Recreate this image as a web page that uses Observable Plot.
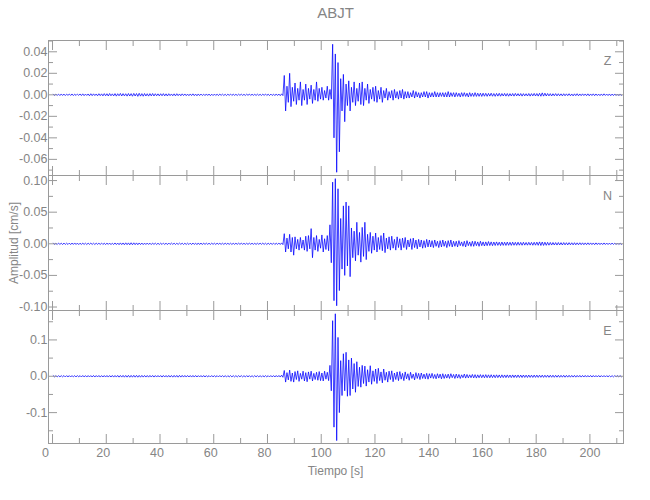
<!DOCTYPE html>
<html><head><meta charset="utf-8">
<script src="https://cdn.jsdelivr.net/npm/d3@7"></script>
<script src="https://cdn.jsdelivr.net/npm/@observablehq/plot@0.6"></script>
<style>
body{margin:0;background:#fff;}
#wrap{position:relative;width:650px;height:500px;font-family:"Liberation Sans",Arial,sans-serif;color:#858585;overflow:hidden;}
#wrap svg{position:absolute;left:0;top:0;}
.lbl{position:absolute;white-space:pre;transform:translate(-50%,-50%);font-size:12px;}
</style></head><body>
<div id="wrap">
  <div class="lbl" id="title" style="left:335.5px;top:12px;font-size:15px;">ABJT</div>
  <div class="lbl" id="xlab" style="left:335.5px;top:471px;">Tiempo [s]</div>
  <div class="lbl" id="ylab" style="left:14px;top:243px;transform:translate(-50%,-50%) rotate(-90deg);">Amplitud [cm/s]</div>
</div>
<script>
// ---- data: per 1-s bin (bin i covers [i, i+1) s), upper and lower peak of trace ----
const binStart = 0, binWidth = 1;
const channels = ["Z", "N", "E"];

const zHi = [
.0006,.0007,.0006,.0008,.0007,.0006,.0007,.0008,.0006,.0007,
.0008,.0009,.0007,.0008,.0010,.0009,.0008,.0010,.0009,.0011,
.0010,.0012,.0009,.0011,.0010,.0013,.0011,.0010,.0012,.0011,
.0013,.0012,.0014,.0011,.0012,.0010,.0011,.0012,.0010,.0009,
.0010,.0011,.0009,.0010,.0008,.0009,.0010,.0008,.0009,.0008,
.0007,.0008,.0009,.0007,.0008,.0007,.0006,.0008,.0007,.0006,
.0007,.0006,.0007,.0006,.0005,.0006,.0007,.0006,.0005,.0006,
.0006,.0005,.0006,.0007,.0006,.0005,.0006,.0005,.0006,.0007,
.0006,.0007,.0006,.0008,.0007,.0009,.018,.008,.020,.007,
.011,.006,.012,.005,.010,.006,.009,.005,.012,.006,
.007,.004,.008,.005,.047,.038,.030,.015,.019,.010,
.013,.007,.012,.006,.011,.012,.006,.010,.005,.007,
.008,.004,.007,.004,.006,.003,.004,.005,.003,.004,
.005,.003,.003,.002,.004,.003,.002,.002,.003,.003,
.002,.002,.003,.002,.002,.002,.002,.003,.002,.002,
.002,.0015,.002,.002,.0015,.002,.0015,.002,.0015,.0015,
.0015,.0014,.0013,.0015,.0012,.0013,.0014,.0012,.0013,.0012,
.0011,.0012,.0013,.0011,.0012,.0011,.0010,.0012,.0011,.0013,
.0012,.0014,.0018,.0015,.0012,.0011,.0010,.0011,.0010,.0009,
.0010,.0009,.0010,.0008,.0009,.0010,.0008,.0009,.0008,.0009,
.0008,.0009,.0008,.0007,.0008,.0009,.0007,.0008,.0007,.0008,
.0007,.0008];
const zLo = [
-.0006,-.0005,-.0007,-.0006,-.0007,-.0005,-.0006,-.0007,-.0006,-.0005,
-.0007,-.0008,-.0006,-.0009,-.0008,-.0007,-.0009,-.0008,-.0010,-.0009,
-.0011,-.0009,-.0010,-.0012,-.0009,-.0011,-.0010,-.0012,-.0011,-.0013,
-.0011,-.0014,-.0012,-.0013,-.0011,-.0012,-.0010,-.0011,-.0009,-.0010,
-.0009,-.0010,-.0011,-.0008,-.0009,-.0010,-.0008,-.0009,-.0007,-.0008,
-.0008,-.0007,-.0008,-.0009,-.0007,-.0006,-.0007,-.0006,-.0008,-.0007,
-.0006,-.0007,-.0005,-.0006,-.0007,-.0005,-.0006,-.0005,-.0006,-.0005,
-.0005,-.0006,-.0005,-.0006,-.0005,-.0006,-.0005,-.0006,-.0005,-.0006,
-.0007,-.0006,-.0007,-.0006,-.0008,-.0007,-.015,-.007,-.011,-.006,
-.009,-.005,-.010,-.005,-.009,-.004,-.008,-.005,-.006,-.004,
-.005,-.003,-.005,-.004,-.040,-.072,-.053,-.015,-.025,-.010,
-.015,-.007,-.010,-.006,-.009,-.010,-.005,-.008,-.004,-.006,
-.007,-.004,-.007,-.003,-.005,-.003,-.005,-.003,-.004,-.003,
-.004,-.003,-.003,-.002,-.003,-.002,-.003,-.002,-.002,-.003,
-.002,-.002,-.002,-.002,-.0015,-.002,-.002,-.002,-.0015,-.002,
-.0015,-.002,-.0015,-.0015,-.002,-.0015,-.0015,-.0015,-.0014,-.0015,
-.0013,-.0014,-.0012,-.0013,-.0014,-.0012,-.0013,-.0011,-.0012,-.0013,
-.0011,-.0012,-.0010,-.0011,-.0012,-.0010,-.0011,-.0012,-.0010,-.0011,
-.0012,-.0013,-.0012,-.0011,-.0010,-.0011,-.0009,-.0010,-.0009,-.0010,
-.0009,-.0008,-.0009,-.0010,-.0008,-.0009,-.0008,-.0007,-.0008,-.0009,
-.0007,-.0008,-.0007,-.0008,-.0007,-.0006,-.0007,-.0008,-.0007,-.0006,
-.0007,-.0006];

const nHi = [
.0010,.0009,.0011,.0010,.0012,.0010,.0011,.0012,.0013,.0011,
.0010,.0011,.0009,.0010,.0011,.0009,.0010,.0009,.0011,.0010,
.0011,.0012,.0010,.0013,.0012,.0014,.0013,.0015,.0014,.0016,
.0015,.0014,.0013,.0012,.0011,.0012,.0010,.0011,.0010,.0009,
.0010,.0011,.0010,.0012,.0011,.0010,.0009,.0011,.0010,.0009,
.0010,.0011,.0012,.0010,.0013,.0012,.0011,.0010,.0009,.0010,
.0009,.0010,.0008,.0009,.0010,.0008,.0009,.0008,.0009,.0010,
.0009,.0008,.0009,.0010,.0009,.0008,.0009,.0010,.0011,.0009,
.0010,.0009,.0011,.0010,.0012,.0014,.016,.009,.015,.010,
.011,.007,.010,.006,.012,.013,.024,.010,.013,.007,
.014,.008,.013,.030,.0975,.103,.087,.040,.060,.066,
.060,.025,.020,.034,.018,.026,.034,.015,.018,.012,
.017,.010,.013,.017,.009,.011,.012,.007,.011,.008,
.009,.010,.006,.008,.009,.006,.007,.006,.005,.007,
.006,.005,.006,.004,.005,.006,.004,.005,.006,.004,
.004,.005,.003,.004,.005,.003,.004,.004,.003,.004,
.003,.003,.0035,.003,.0028,.003,.0025,.0028,.0025,.0027,
.0024,.0026,.0023,.0025,.0022,.0024,.0021,.0023,.0022,.0024,
.0026,.0030,.0028,.0025,.0023,.0021,.0020,.0019,.0020,.0018,
.0019,.0017,.0018,.0016,.0017,.0015,.0016,.0015,.0014,.0015,
.0014,.0013,.0014,.0013,.0012,.0013,.0012,.0011,.0012,.0011,
.0012,.0011];
const nLo = [
-.0009,-.0011,-.0010,-.0012,-.0010,-.0011,-.0012,-.0010,-.0011,-.0012,
-.0011,-.0010,-.0011,-.0009,-.0010,-.0011,-.0009,-.0010,-.0011,-.0012,
-.0010,-.0013,-.0011,-.0012,-.0014,-.0013,-.0015,-.0014,-.0016,-.0015,
-.0014,-.0015,-.0012,-.0013,-.0011,-.0010,-.0012,-.0010,-.0011,-.0010,
-.0011,-.0010,-.0012,-.0010,-.0009,-.0011,-.0010,-.0009,-.0011,-.0010,
-.0011,-.0012,-.0010,-.0013,-.0011,-.0012,-.0010,-.0009,-.0010,-.0009,
-.0010,-.0008,-.0009,-.0010,-.0008,-.0009,-.0010,-.0009,-.0008,-.0009,
-.0008,-.0009,-.0010,-.0008,-.0009,-.0010,-.0008,-.0009,-.0010,-.0011,
-.0009,-.0010,-.0011,-.0009,-.0011,-.0013,-.013,-.008,-.013,-.018,
-.008,-.010,-.007,-.010,-.012,-.008,-.022,-.010,-.012,-.007,
-.013,-.009,-.011,-.030,-.090,-.098,-.074,-.040,-.050,-.035,
-.052,-.022,-.027,-.018,-.029,-.020,-.025,-.012,-.015,-.010,
-.013,-.009,-.011,-.014,-.008,-.010,-.007,-.010,-.006,-.010,
-.006,-.009,-.005,-.009,-.006,-.008,-.005,-.007,-.006,-.005,
-.005,-.006,-.004,-.006,-.005,-.004,-.006,-.004,-.005,-.004,
-.005,-.003,-.004,-.005,-.003,-.004,-.004,-.003,-.004,-.003,
-.0035,-.003,-.0028,-.003,-.0027,-.0025,-.0028,-.0025,-.0026,-.0024,
-.0025,-.0023,-.0024,-.0022,-.0023,-.0021,-.0022,-.0021,-.0023,-.0022,
-.0024,-.0027,-.0026,-.0024,-.0022,-.0020,-.0019,-.0020,-.0018,-.0019,
-.0017,-.0018,-.0016,-.0017,-.0016,-.0015,-.0014,-.0015,-.0014,-.0013,
-.0013,-.0014,-.0012,-.0013,-.0012,-.0011,-.0012,-.0011,-.0010,-.0011,
-.0010,-.0011];

const eHi = [
.0018,.0016,.0019,.0017,.0020,.0018,.0017,.0019,.0018,.0020,
.0019,.0021,.0018,.0020,.0019,.0022,.0020,.0021,.0019,.0020,
.0021,.0020,.0022,.0021,.0023,.0022,.0024,.0023,.0025,.0024,
.0026,.0025,.0023,.0024,.0022,.0021,.0023,.0022,.0020,.0021,
.0020,.0022,.0021,.0023,.0022,.0024,.0023,.0025,.0024,.0022,
.0021,.0020,.0022,.0021,.0019,.0020,.0021,.0019,.0018,.0020,
.0019,.0018,.0020,.0019,.0017,.0018,.0019,.0017,.0018,.0017,
.0018,.0017,.0019,.0018,.0017,.0018,.0019,.0017,.0018,.0019,
.0018,.0020,.0019,.0021,.0022,.0030,.016,.010,.017,.009,
.013,.015,.008,.014,.010,.012,.014,.008,.011,.013,
.009,.014,.011,.030,.153,.172,.107,.043,.062,.066,
.045,.050,.035,.040,.025,.030,.028,.018,.029,.015,
.020,.022,.012,.020,.011,.014,.015,.009,.012,.013,
.008,.012,.007,.011,.006,.010,.008,.009,.006,.008,
.007,.008,.005,.007,.006,.007,.005,.006,.007,.005,
.006,.005,.004,.006,.005,.004,.005,.0045,.004,.0045,
.004,.0045,.004,.0042,.0038,.004,.0037,.0039,.0036,.0038,
.0035,.0037,.0034,.0036,.0033,.0035,.0032,.0034,.0031,.0033,
.0032,.0030,.0031,.0029,.0030,.0028,.0029,.0027,.0028,.0026,
.0027,.0025,.0026,.0024,.0025,.0023,.0024,.0022,.0023,.0021,
.0022,.0021,.0020,.0021,.0019,.0020,.0018,.0019,.0018,.0017,
.0018,.0017];
const eLo = [
-.0017,-.0019,-.0018,-.0016,-.0019,-.0017,-.0020,-.0018,-.0019,-.0017,
-.0020,-.0018,-.0021,-.0019,-.0020,-.0021,-.0019,-.0022,-.0020,-.0021,
-.0022,-.0021,-.0023,-.0022,-.0024,-.0023,-.0025,-.0024,-.0026,-.0025,
-.0024,-.0026,-.0025,-.0023,-.0022,-.0024,-.0021,-.0022,-.0021,-.0020,
-.0022,-.0021,-.0023,-.0022,-.0024,-.0023,-.0025,-.0023,-.0022,-.0021,
-.0020,-.0022,-.0021,-.0020,-.0019,-.0021,-.0020,-.0018,-.0019,-.0018,
-.0018,-.0019,-.0017,-.0018,-.0019,-.0017,-.0018,-.0017,-.0018,-.0016,
-.0017,-.0018,-.0017,-.0019,-.0018,-.0017,-.0018,-.0019,-.0018,-.0017,
-.0019,-.0018,-.0020,-.0019,-.0021,-.0028,-.016,-.010,-.014,-.016,
-.009,-.014,-.008,-.013,-.015,-.008,-.013,-.009,-.011,-.012,
-.013,-.008,-.012,-.040,-.140,-.177,-.100,-.053,-.040,-.055,
-.053,-.035,-.044,-.028,-.030,-.020,-.027,-.016,-.022,-.014,
-.020,-.012,-.018,-.011,-.016,-.009,-.015,-.009,-.012,-.008,
-.012,-.007,-.011,-.006,-.010,-.006,-.009,-.006,-.007,-.008,
-.005,-.006,-.007,-.005,-.007,-.006,-.005,-.006,-.004,-.006,
-.005,-.006,-.004,-.005,-.0045,-.004,-.0045,-.005,-.004,-.004,
-.0042,-.004,-.0041,-.0038,-.004,-.0037,-.0039,-.0036,-.0037,-.0035,
-.0036,-.0034,-.0035,-.0033,-.0034,-.0032,-.0033,-.0031,-.0032,-.0030,
-.0031,-.0029,-.0030,-.0028,-.0029,-.0027,-.0028,-.0026,-.0027,-.0025,
-.0026,-.0024,-.0025,-.0023,-.0024,-.0022,-.0023,-.0021,-.0022,-.0020,
-.0021,-.0020,-.0019,-.0020,-.0018,-.0019,-.0017,-.0018,-.0017,-.0016,
-.0017,-.0016];

// ---- axes / tick labels ----
const xMajor = [0,20,40,60,80,100,120,140,160,180,200];
const xMinor = [10,30,50,70,90,110,130,150,170,190,210];
const xDomain = [-1.5, 212.5];
const zMajor = [-0.06,-0.04,-0.02,0,0.02,0.04];
const zMinor = [-0.07,-0.05,-0.03,-0.01,0.01,0.03,0.05];
const nMajor = [-0.10,-0.05,0,0.05,0.10];
const nMinor = [-0.075,-0.025,0.025,0.075];
const eMajor = [-0.1,0,0.1];
const eMinor = [-0.15,-0.05,0.05,0.15];

// ---- layout ----
const W = 650, H = 500, mL = 48, mR = 27;
const AX = "#9a9a9a", TX = "#858585", TRACE = "#0000ff";
const FONT = '"Liberation Sans",Arial,sans-serif';
const loc = d3.formatLocale({decimal: ".", thousands: ",", grouping: [3], currency: ["", ""], minus: "-"});

const panels = [
  {name: channels[0], hi: zHi, lo: zLo, top: 40,  bottom: 175, domain: [-0.075, 0.0505], major: zMajor, minor: zMinor, fmt: ".2f"},
  {name: channels[1], hi: nHi, lo: nLo, top: 175, bottom: 310, domain: [-0.1055, 0.108], major: nMajor, minor: nMinor, fmt: ".2f"},
  {name: channels[2], hi: eHi, lo: eLo, top: 310, bottom: 443, domain: [-0.185, 0.181], major: eMajor, minor: eMinor, fmt: ".1f"}
];

const wrap = document.getElementById("wrap");
panels.forEach((p, k) => {
  const pts = [];
  p.hi.forEach((v, i) => {
    const t0 = binStart + i * binWidth;
    pts.push({t: t0 + 0.25 * binWidth, v: v});
    pts.push({t: t0 + 0.75 * binWidth, v: p.lo[i]});
  });
  const last = k === panels.length - 1;
  const tickOnly = {fill: "none", stroke: AX, label: null};
  const marks = [
    Plot.line(pts, {x: "t", y: "v", stroke: TRACE, strokeWidth: 0.75}),
    Plot.frame({stroke: AX}),
    Plot.axisY(p.major, {anchor: "left", tickSize: 0, tickPadding: 1, tickFormat: loc.format(p.fmt), fill: TX, label: null}),
    Plot.axisY(p.major, {anchor: "left", tickSize: -9, ...tickOnly}),
    Plot.axisY(p.minor, {anchor: "left", tickSize: -5, ...tickOnly}),
    Plot.axisY(p.major, {anchor: "right", tickSize: -9, ...tickOnly}),
    Plot.axisY(p.minor, {anchor: "right", tickSize: -5, ...tickOnly}),
    Plot.axisX(xMajor, {anchor: "top", tickSize: -9, ...tickOnly}),
    Plot.axisX(xMinor, {anchor: "top", tickSize: -5, ...tickOnly}),
    Plot.axisX(xMajor, {anchor: "bottom", tickSize: -9, ...tickOnly}),
    Plot.axisX(xMinor, {anchor: "bottom", tickSize: -5, ...tickOnly}),
    Plot.text([p.name], {frameAnchor: "top-right", dx: -16, dy: 16, fill: TX, textAnchor: "middle", fontSize: 12.5})
  ];
  if (last) {
    marks.push(Plot.axisX(xMajor.filter(d => d < 10), {anchor: "bottom", tickSize: 0, tickPadding: 5, dx: -7, fill: TX, label: null}));
    marks.push(Plot.axisX(xMajor.filter(d => d >= 10 && d < 100), {anchor: "bottom", tickSize: 0, tickPadding: 5, dx: -3, fill: TX, label: null}));
    marks.push(Plot.axisX(xMajor.filter(d => d >= 100), {anchor: "bottom", tickSize: 0, tickPadding: 5, fill: TX, label: null}));
  }
  const chart = Plot.plot({
    width: W, height: H,
    marginLeft: mL, marginRight: mR, marginTop: p.top, marginBottom: H - p.bottom,
    style: {background: "transparent", fontFamily: FONT, fontSize: "12.5px", color: TX, overflow: "visible"},
    x: {domain: xDomain, label: null},
    y: {domain: p.domain, label: null},
    marks
  });
  wrap.appendChild(chart);
});
</script>
</body></html>
